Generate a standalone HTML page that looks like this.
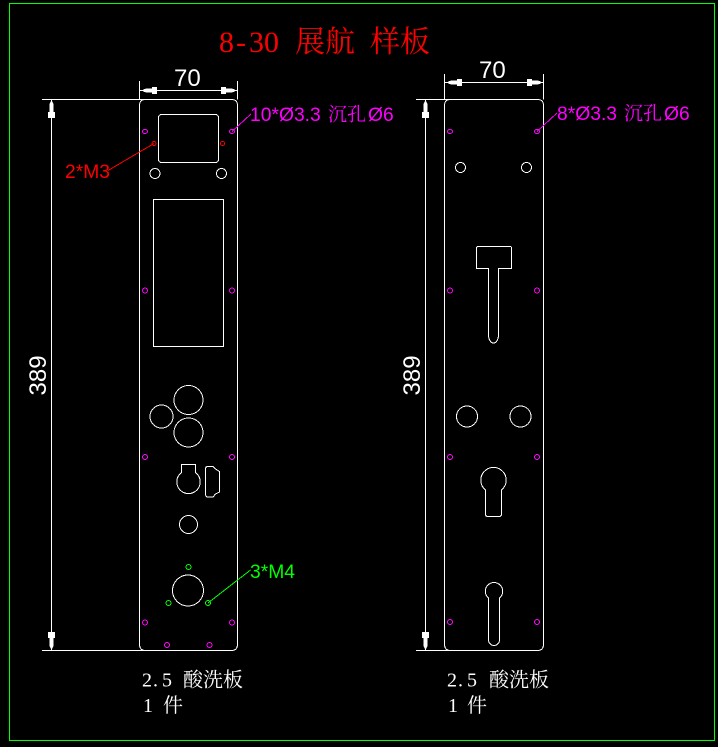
<!DOCTYPE html>
<html><head><meta charset="utf-8"><style>
html,body{margin:0;padding:0;background:#000;width:718px;height:747px;overflow:hidden}
svg{display:block}
path,rect,circle,ellipse,polygon{shape-rendering:crispEdges}
.l{fill:none;stroke:#fff;stroke-width:1}
.m{fill:none;stroke:#f0f;stroke-width:1}
.r{fill:none;stroke:#f00;stroke-width:1}
.g{fill:none;stroke:#0f0;stroke-width:1}
text{font-family:"Liberation Sans","Noto Sans CJK SC",sans-serif}
.cn{font-family:"Noto Serif CJK SC","Liberation Serif",serif}
.se{font-family:"Liberation Serif","Noto Serif CJK SC",serif}
</style></head><body>
<svg width="718" height="747" viewBox="0 0 718 747" xmlns="http://www.w3.org/2000/svg">
<rect x="0" y="0" width="718" height="747" fill="#000"/>
<rect x="9.5" y="3.5" width="705" height="737" fill="none" stroke="#0f0" stroke-width="1"/>

<!-- title -->
<text class="se" y="52" font-size="30" fill="#f00" x="219 236 249 264">8-30</text>
<text class="cn" y="52" font-size="30" fill="#f00" x="295">展航</text>
<text class="cn" y="52" font-size="30" fill="#f00" x="370">样板</text>

<!-- LEFT PLATE -->
<path class="l" d="M145.5 99.5H231.5Q237.5 99.5 237.5 105.5V644Q237.5 650.5 231.5 650.5H145.5Q139.5 650.5 139.5 644V105.5Q139.5 99.5 145.5 99.5Z"/>
<path class="l" d="M42 99.5H145M42 650.5H145M139.5 81V99.5M237.5 81V99.5M51.5 99.5V650.5M140 90.5H237"/>
<polygon fill="#fff" points="141,90.5 146,88.5 152,88.5 152,87 157,87 157,94 152,94 152,92.5 146,92.5"/>
<polygon fill="#fff" points="237,90.5 232,88.5 226,88.5 226,87 221,87 221,94 226,94 226,92.5 232,92.5"/>
<polygon fill="#fff" points="51.5,100 53.5,104 53.5,112 55,112 55,118 48,118 48,112 49.5,112 49.5,104"/>
<polygon fill="#fff" points="51.5,650 53.5,646 53.5,638 55,638 55,632 48,632 48,638 49.5,638 49.5,646"/>
<text x="174" y="86" font-size="24" fill="#fff">70</text>
<text transform="translate(46,395.5) rotate(-90)" font-size="24" fill="#fff">389</text>

<rect class="l" x="158.5" y="114.5" width="60" height="48" rx="3"/>
<circle class="l" cx="155" cy="173.5" r="5"/>
<circle class="l" cx="221.5" cy="173.5" r="5"/>
<rect class="l" x="153.5" y="199.5" width="70" height="147"/>
<circle class="l" cx="188.5" cy="400" r="14.5"/>
<circle class="l" cx="161.5" cy="416.5" r="11.5"/>
<circle class="l" cx="188.5" cy="432.5" r="14.5"/>
<path class="l" d="M181.5 472.5V464.5H195.5V472.5A11.7 11.7 0 1 1 181.5 472.5Z"/>
<path class="l" d="M208 466.5H213L215.5 469L219.5 471.5V492L215.5 494L213 497H208Q205.5 497 205.5 494V469Q205.5 466.5 208 466.5Z"/>
<circle class="l" cx="188.5" cy="524.5" r="9"/>
<circle class="l" cx="188" cy="590.5" r="15.5"/>

<g class="m">
<ellipse cx="145" cy="131.5" rx="2.5" ry="2"/><ellipse cx="232" cy="131.5" rx="2.5" ry="2"/>
<ellipse cx="145" cy="290.5" rx="2.5" ry="2.5"/><ellipse cx="232" cy="290.5" rx="2.5" ry="2.5"/>
<ellipse cx="145" cy="457" rx="2.5" ry="2.5"/><ellipse cx="232" cy="457" rx="2.5" ry="2.5"/>
<ellipse cx="145" cy="622.5" rx="2.5" ry="2.5"/><ellipse cx="232" cy="622.5" rx="2.5" ry="2.5"/>
<ellipse cx="167" cy="645" rx="2.5" ry="2.5"/><ellipse cx="209.5" cy="645" rx="2.5" ry="2.5"/>
</g>
<path class="m" d="M232 131.5L251 114"/>
<text x="250" y="121" font-size="19.3" fill="#f0f">10*Ø3.3</text>
<text class="cn" x="328" y="120.5" font-size="19" fill="#f0f">沉孔</text>
<text x="368" y="121" font-size="19.3" fill="#f0f">Ø6</text>

<circle class="r" cx="154" cy="143.5" r="2"/>
<circle class="r" cx="222.5" cy="143.5" r="2"/>
<path class="r" d="M154 143.5L108 170.5"/>
<text x="65" y="178" font-size="19.3" fill="#f00">2*M3</text>

<circle class="g" cx="188.5" cy="567" r="2.5"/>
<circle class="g" cx="168.5" cy="603" r="2.5"/>
<circle class="g" cx="208" cy="603" r="2.5"/>
<path class="g" d="M208 603L250.5 570"/>
<text x="250" y="578" font-size="19.3" fill="#0f0">3*M4</text>

<text class="se" x="142 153 162" y="686.5" font-size="20" fill="#fff">2.5</text>
<text class="cn" x="183" y="686.5" font-size="20" fill="#fff">酸洗板</text>
<text class="se" x="143" y="712" font-size="20" fill="#fff">1</text>
<text class="cn" x="163" y="712" font-size="20" fill="#fff">件</text>

<!-- RIGHT PLATE -->
<path class="l" d="M450.5 99.5H537.5Q543.5 99.5 543.5 105.5V644Q543.5 650.5 537.5 650.5H450.5Q444.5 650.5 444.5 644V105.5Q444.5 99.5 450.5 99.5Z"/>
<path class="l" d="M416 99.5H450M416 650.5H450M444.5 74V99.5M543.5 74V99.5M425.5 99.5V650.5M445 82.5H543"/>
<polygon fill="#fff" points="446,82.5 451,80.5 457,80.5 457,79 462,79 462,86 457,86 457,84.5 451,84.5"/>
<polygon fill="#fff" points="543,82.5 538,80.5 532,80.5 532,79 527,79 527,86 532,86 532,84.5 538,84.5"/>
<polygon fill="#fff" points="425.5,100 427.5,104 427.5,112 429,112 429,118 422,118 422,112 423.5,112 423.5,104"/>
<polygon fill="#fff" points="425.5,650 427.5,646 427.5,638 429,638 429,632 422,632 422,638 423.5,638 423.5,646"/>
<text x="479" y="78" font-size="24" fill="#fff">70</text>
<text transform="translate(420,395.5) rotate(-90)" font-size="24" fill="#fff">389</text>

<circle class="l" cx="460.5" cy="167.5" r="5"/>
<circle class="l" cx="526.5" cy="167.5" r="5"/>
<path class="l" d="M476.5 268.5V248Q476.5 246.5 478 246.5H510Q511.5 246.5 511.5 248V268.5H498.5V335A5 8 0 0 1 488.5 335V268.5Z"/>
<circle class="l" cx="467" cy="416.5" r="10.5"/>
<circle class="l" cx="520.5" cy="416.5" r="10.5"/>
<path class="l" d="M485.5 490A12.7 12.7 0 1 1 501.5 490V514Q501.5 516.5 499 516.5H488Q485.5 516.5 485.5 514Z"/>
<path class="l" d="M488.5 598A8.7 8.7 0 1 1 499.5 598V640A5.5 5.5 0 0 1 488.5 640Z"/>

<g class="m">
<ellipse cx="450" cy="131.5" rx="2.5" ry="2"/><ellipse cx="537" cy="131.5" rx="2.5" ry="2"/>
<ellipse cx="450" cy="290.5" rx="2.5" ry="2.5"/><ellipse cx="537" cy="290.5" rx="2.5" ry="2.5"/>
<ellipse cx="450" cy="457" rx="2.5" ry="2.5"/><ellipse cx="537" cy="457" rx="2.5" ry="2.5"/>
<ellipse cx="450" cy="622" rx="2.5" ry="2.5"/><ellipse cx="537" cy="622" rx="2.5" ry="2.5"/>
</g>
<path class="m" d="M537 131.5L557 113"/>
<text x="557" y="120" font-size="19.3" fill="#f0f">8*Ø3.3</text>
<text class="cn" x="624" y="119.5" font-size="19" fill="#f0f">沉孔</text>
<text x="664" y="120" font-size="19.3" fill="#f0f">Ø6</text>

<text class="se" x="447 458 467" y="686.5" font-size="20" fill="#fff">2.5</text>
<text class="cn" x="489" y="686.5" font-size="20" fill="#fff">酸洗板</text>
<text class="se" x="448" y="712" font-size="20" fill="#fff">1</text>
<text class="cn" x="467" y="712" font-size="20" fill="#fff">件</text>
</svg>
</body></html>
